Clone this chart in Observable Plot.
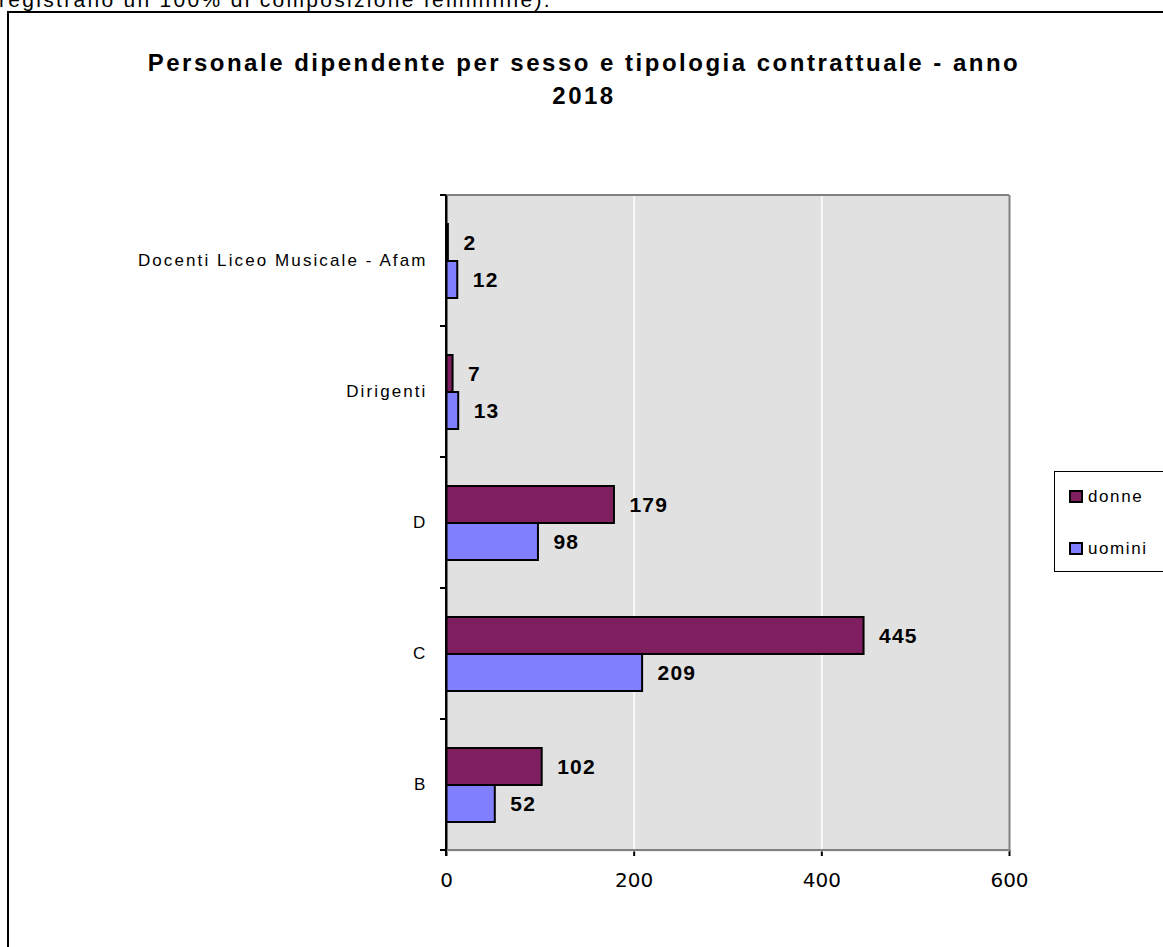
<!DOCTYPE html>
<html>
<head>
<meta charset="utf-8">
<script src="https://cdn.jsdelivr.net/npm/d3@7"></script>
<script src="https://cdn.jsdelivr.net/npm/@observablehq/plot@0.6"></script>
<style>
  html, body { margin: 0; padding: 0; background: white; }
  body { width: 1163px; height: 947px; position: relative; overflow: hidden; font-family: "Liberation Sans", Arial, sans-serif; }
  #intro { position: absolute; left: -1px; top: -12px; font-size: 21px; line-height: 24px; letter-spacing: 2.3px; white-space: nowrap; color: #000; }
  #box { position: absolute; left: 7px; top: 11px; width: 1300px; height: 1100px; border: 2px solid #000; }
  #title { position: absolute; left: 0; top: 46px; width: 1168px; text-align: center; font-weight: bold; font-size: 24px; letter-spacing: 2.5px; line-height: 33px; color: #000; }
  #chart { position: absolute; left: 0; top: 0; }
  #legend { position: absolute; left: 1054px; top: 471px; width: 140px; height: 99px; border: 1px solid #000; background: #fff; }
  .item { position: absolute; left: 14px; font-size: 17px; letter-spacing: 1.6px; white-space: nowrap; }
  .sw { display: inline-block; width: 10px; height: 9px; border: 2px solid #000; margin-right: 5px; vertical-align: -1px; }
  #chart svg [aria-label^="fy-axis"] text { font-size: 17px; letter-spacing: 2.1px; }
  #chart svg [aria-label^="x-axis"] text { font-family: "DejaVu Sans", sans-serif; font-size: 20px; }
  #chart svg [aria-label^="x-axis"] path, #chart svg [aria-label^="x-axis"] line { stroke-width: 2px; }
  #chart svg g[aria-label="text"] text { letter-spacing: 1.2px; }
</style>
</head>
<body>
<div id="intro">registrano un 100% di composizione femminile).</div>
<div id="box"></div>
<div id="title">Personale dipendente per sesso e tipologia contrattuale - anno<br>2018</div>
<div id="chart"></div>
<div id="legend"></div>
<script>
const categories = ["Docenti Liceo Musicale - Afam", "Dirigenti", "D", "C", "B"];
const series = ["donne", "uomini"];
const donne = [2, 7, 179, 445, 102];
const uomini = [12, 13, 98, 209, 52];
const seriesColors = ["#7f1f5f", "#8080ff"];
const xTicks = [0, 200, 400, 600];

const values = {donne, uomini};
const rows = [];
categories.forEach((cat, i) => {
  series.forEach(s => rows.push({cat, sex: s, value: values[s][i]}));
});

const chart = Plot.plot({
  width: 1163,
  height: 947,
  marginLeft: 446,
  marginRight: 154,
  marginTop: 195,
  marginBottom: 97,
  style: {background: "transparent", fontFamily: "'Liberation Sans', Arial, sans-serif", color: "#000"},
  x: {domain: [0, 600], ticks: xTicks, tickSize: 6, tickPadding: 16, label: null, tickFormat: d => String(d)},
  y: {domain: series, axis: null, paddingInner: 0, paddingOuter: 0.75},
  fy: {domain: categories, padding: 0, axis: "left", tickSize: 0, tickPadding: 19, label: null},
  color: {domain: series, range: seriesColors},
  marks: [
    Plot.frame({fill: "#e1e1e1", stroke: "none", insetTop: -1, insetBottom: -1}),
    Plot.ruleX([200, 400], {stroke: "white", strokeWidth: 1.5}),
    Plot.ruleX([600], {stroke: "#808080", strokeWidth: 2}),
    Plot.barX(rows, {x: "value", y: "sex", fy: "cat", fill: "sex", stroke: "black", strokeWidth: 2}),
    Plot.ruleX([0], {stroke: "black", strokeWidth: 2}),
    Plot.text(rows, {x: "value", y: "sex", fy: "cat", text: d => String(d.value), textAnchor: "start", dx: 15, fontWeight: "bold", fontSize: 21, fill: "black"})
  ]
});
document.getElementById("chart").appendChild(chart);

// plot-area border and category tick marks, placed through the chart's scales
const xs = chart.scale("x"), fys = chart.scale("fy");
const x0 = xs.apply(0), x1 = xs.apply(600);
const bw = fys.bandwidth;
const starts = categories.map(c => fys.apply(c));
const yTop = Math.min(...starts), yBot = Math.max(...starts) + bw;
const g = d3.select(chart).append("g");
g.append("line").attr("x1", x0).attr("x2", x1).attr("y1", yTop).attr("y2", yTop).attr("stroke", "#808080").attr("stroke-width", 2);
g.append("line").attr("x1", x0).attr("x2", x1 + 1).attr("y1", yBot).attr("y2", yBot).attr("stroke", "#808080").attr("stroke-width", 2);
const bounds = [yTop, ...starts.map(s => s + bw)];
g.selectAll("line.t").data(bounds).join("line").attr("class", "t")
  .attr("x1", x0 - 6).attr("x2", x0).attr("y1", d => d).attr("y2", d => d)
  .attr("stroke", "black").attr("stroke-width", 2);
g.append("line").attr("x1", x0).attr("x2", x0).attr("y1", yTop).attr("y2", yBot + 6).attr("stroke", "black").attr("stroke-width", 2);

// legend
const legend = document.getElementById("legend");
series.forEach((s, i) => {
  const item = document.createElement("div");
  item.className = "item";
  item.style.top = (i === 0 ? 15 : 67) + "px";
  item.innerHTML = `<span class="sw" style="background:${seriesColors[i]}"></span>${s}`;
  legend.appendChild(item);
});
</script>
</body>
</html>
